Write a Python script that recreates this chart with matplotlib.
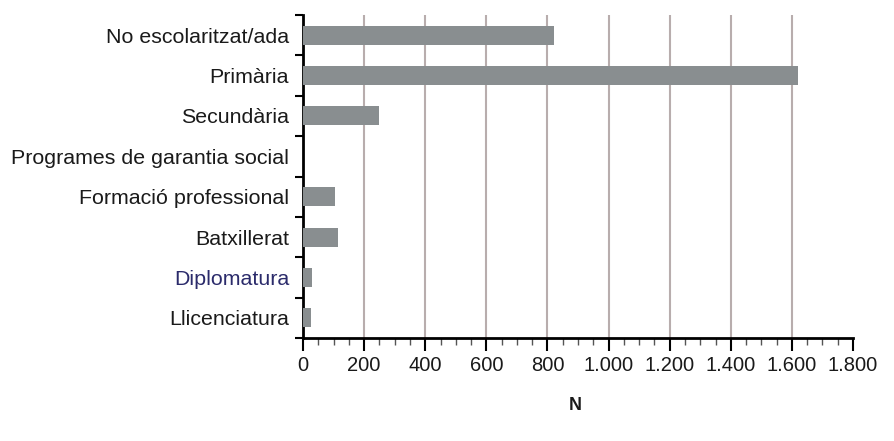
import matplotlib
matplotlib.use("Agg")
import matplotlib.pyplot as plt
from matplotlib.ticker import MultipleLocator, FuncFormatter

# data
categories = ["No escolaritzat/ada", "Primària", "Secundària",
              "Programes de garantia social", "Formació professional",
              "Batxillerat", "Diplomatura", "Llicenciatura"]
values = [820, 1620, 248, 0, 105, 115, 30, 27]
xticks = [0, 200, 400, 600, 800, 1000, 1200, 1400, 1600, 1800]

plt.rcParams['font.family'] = ['Liberation Sans', 'DejaVu Sans']

fig = plt.figure(figsize=(8.94, 4.41), dpi=100)
ax = fig.add_axes([303/894, 1 - 338/441, 550/894, 323/441])

pos = list(range(len(categories)))
ax.barh(pos, values, height=0.47, color="#898e90", zorder=3)

ax.set_ylim(len(categories) - 0.5, -0.5)
ax.set_xlim(0, 1800)

# category labels between boundary ticks
ax.set_yticks(pos)
ax.set_yticklabels(categories, fontsize=15.4, color="#1a1a1a")
ax.tick_params(axis="y", which="major", length=0, pad=10)
ax.set_yticks([p - 0.5 for p in range(len(categories) + 1)], minor=True)
ax.tick_params(axis="y", which="minor", length=6, width=1.5, color="black")
for lab in ax.get_yticklabels():
    if lab.get_text() == "Diplomatura":
        lab.set_color("#2b2b6b")

ax.set_xticks(xticks)
ax.xaxis.set_minor_locator(MultipleLocator(50))
ax.xaxis.set_major_formatter(FuncFormatter(lambda v, p: f"{int(v):,}".replace(",", ".")))
ax.tick_params(axis="x", which="major", length=9, width=1.5, labelsize=14.5,
               labelcolor="#1a1a1a", pad=4)
ax.tick_params(axis="x", which="minor", length=5, width=1, color="#555555")

for x in xticks[1:-1]:
    ax.axvline(x, color="#b8adad", linewidth=1.5, zorder=1)

for s in ["top", "right"]:
    ax.spines[s].set_visible(False)
ax.spines["left"].set_linewidth(2)
ax.spines["bottom"].set_linewidth(2)

fig.text(575/894, 1 - 406/441, "N", ha="center", va="center", fontsize=13,
         fontweight="bold", color="#1a1a1a")

fig.savefig("out.png", dpi=100)
